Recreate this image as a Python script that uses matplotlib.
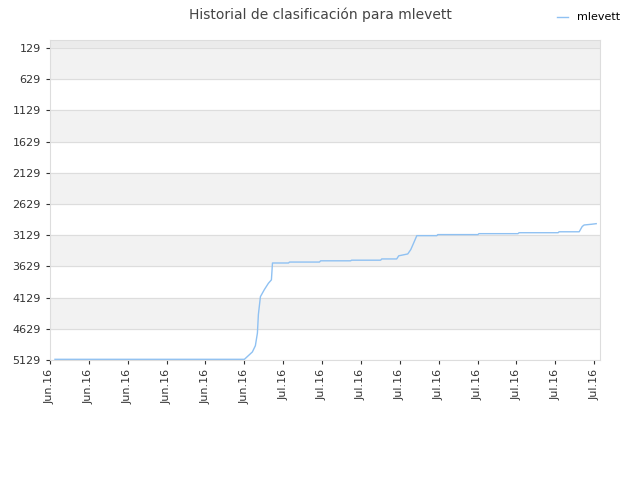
import matplotlib.pyplot as plt

# days since start (x) vs ranking position (y)
days = [0.52, 20.01, 20.83, 21.14, 21.35, 21.45, 21.66, 22.07, 22.48, 22.79, 22.90,
        24.55, 24.65, 27.74, 27.85, 30.94, 31.04, 34.03, 34.14, 35.68, 35.89, 36.82,
        37.13, 37.44, 37.75, 39.81, 39.91, 44.04, 44.14, 48.16, 48.27, 52.29, 52.39,
        54.46, 54.77, 54.97, 55.69, 56.21]
rank = [5118, 5118, 5000, 4900, 4697, 4400, 4114, 4000, 3900, 3845, 3575,
        3575, 3560, 3560, 3540, 3540, 3530, 3530, 3510, 3510, 3460, 3430,
        3360, 3250, 3137, 3137, 3120, 3120, 3105, 3105, 3090, 3090, 3075,
        3075, 2990, 2966, 2955, 2945]
tick_labels = ['Jun.16'] * 6 + ['Jul.16'] * 9
y_ticks = list(range(129, 5130, 500))

fig = plt.figure(figsize=(6.4, 4.8), dpi=100)
ax = fig.add_axes([0.078, 0.25, 0.8595, 0.667])

ax.axhspan(0, 129, color='#ebebeb', zorder=0)
for i, t in enumerate(y_ticks[:-1]):
    if i % 2 == 0:
        ax.axhspan(t, t + 500, color='#f2f2f2', zorder=0)
ax.plot(days, rank, color='#8fc1f2', lw=1, label='mlevett')

ax.set_ylim(5129, 0)
ax.set_xlim(0, 56.6)
ax.set_yticks(y_ticks)
ax.set_xticks([i * 4 for i in range(15)])
ax.set_xticklabels(tick_labels, rotation=90)
ax.tick_params(labelsize=8, colors='#333333', length=3)
ax.grid(axis='y', color='#dddddd', lw=0.8)
for s in ax.spines.values():
    s.set_color('#dddddd')

fig.suptitle('Historial de clasificación para mlevett', x=0.5, y=0.985,
             fontsize=10, color='#444444')
fig.legend(loc='upper right', bbox_to_anchor=(0.985, 0.995), frameon=False,
           fontsize=8, handlelength=1)
fig.savefig('out.png')
